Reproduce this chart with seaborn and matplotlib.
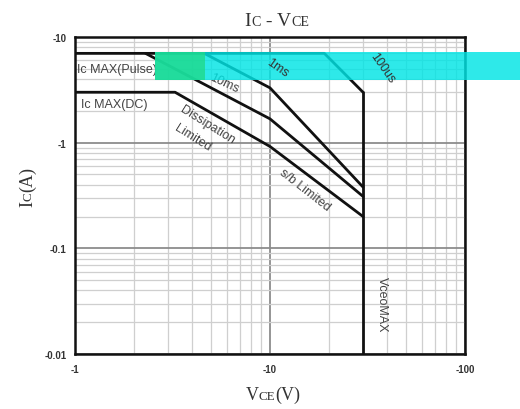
import numpy as np
import pandas as pd
import matplotlib
matplotlib.use("Agg")
import matplotlib.pyplot as plt
import seaborn as sns
from matplotlib.patches import Rectangle
from matplotlib.ticker import LogLocator, NullFormatter

# Safe operating area curves (magnitudes, chart labels carry the minus sign)
vce_pulse = [1, 19, 30]
ic_pulse = [7, 7, 3.0]

vce_dc = [1, 3.26, 10, 30]
ic_dc = [3.0, 3.0, 0.92, 0.20]

vce_10ms = [2.3, 10, 30]
ic_10ms = [7, 1.68, 0.31]

vce_1ms = [4.6, 10, 30]
ic_1ms = [7, 3.3, 0.38]

vce_max = [30, 30]
ic_vcemax = [3.0, 0.01]

x_ticks = [1, 10, 100]
x_tick_labels = ["-1", "-10", "-100"]
y_ticks = [0.01, 0.1, 1, 10]
y_tick_labels = ["-0.01", "-0.1", "-1", "-10"]

W, H = 520, 410


def caps_text(fig, cx, cy, parts, size, rotation=0):
    # draw text with "small caps" pieces, centred on (cx, cy) baseline, pixels from top-left
    r = fig.canvas.get_renderer()
    widths = []
    for s, k in parts:
        t = fig.text(0, 0, s, fontsize=size * k, family="Liberation Serif")
        widths.append(t.get_window_extent(r).width)
        t.remove()
    pos = -sum(widths) / 2
    for (s, k), w in zip(parts, widths):
        if rotation == 90:
            x, y = cx, H - cy + pos
        else:
            x, y = cx + pos, H - cy
        fig.text(x / W, y / H, s, fontsize=size * k, family="Liberation Serif",
                 rotation=rotation, rotation_mode="anchor", ha="left",
                 va="baseline", color="#333333")
        pos += w


sns.set_style("white")
plt.rcParams["font.family"] = ["Liberation Sans", "DejaVu Sans"]

fig = plt.figure(figsize=(5.2, 4.1), dpi=100)
ax = fig.add_axes([75 / W, 1 - 355 / H, 390 / W, 317 / H])

curves = [
    (vce_pulse, ic_pulse),
    (vce_dc, ic_dc),
    (vce_10ms, ic_10ms),
    (vce_1ms, ic_1ms),
    (vce_max, ic_vcemax),
]
for vx, iy in curves:
    df = pd.DataFrame({"vce": vx, "ic": iy})
    sns.lineplot(data=df, x="vce", y="ic", sort=False, estimator=None,
                 color="#111111", lw=2.0, ax=ax, zorder=3)

ax.set_xscale("log")
ax.set_yscale("log")
ax.set_xlim(1, 100)
ax.set_ylim(0.01, 10)
ax.set_xticks(x_ticks, labels=x_tick_labels)
ax.set_yticks(y_ticks, labels=y_tick_labels)
ax.xaxis.set_minor_locator(LogLocator(base=10, subs=np.arange(2, 10)))
ax.yaxis.set_minor_locator(LogLocator(base=10, subs=np.arange(2, 10)))
ax.xaxis.set_minor_formatter(NullFormatter())
ax.yaxis.set_minor_formatter(NullFormatter())
ax.tick_params(which="both", length=0)
ax.tick_params(axis="x", pad=7, labelsize=7, labelcolor="#333333")
ax.tick_params(axis="y", pad=6, labelsize=7, labelcolor="#333333")
for lab in ax.get_xticklabels() + ax.get_yticklabels():
    lab.set_fontweight("bold")

ax.grid(which="major", color="#8c8c8c", lw=1.3)
ax.grid(which="minor", color="#cfcfcf", lw=0.9)
ax.set_xlabel("")
ax.set_ylabel("")
for sp in ax.spines.values():
    sp.set_color("#111111")
    sp.set_linewidth(1.8)
    sp.set_zorder(4)

txt = dict(fontsize=9, color="#444444")
ax.text(1.02, 4.98, "Ic MAX(Pulse)", ha="left", va="center", **txt)
ax.text(1.07, 2.32, "Ic MAX(DC)", ha="left", va="center", **txt)
ax.text(4.75, 1.5, "Dissipation", ha="center", va="center", rotation=-32, **txt)
ax.text(4.03, 1.13, "Limited", ha="center", va="center", rotation=-32, **txt)
ax.text(5.8, 3.67, "10ms", ha="center", va="center", rotation=-25, **txt)
ax.text(15.1, 0.365, "s/b Limited", ha="center", va="center", rotation=-38, **txt)
ax.text(37.5, 0.0298, "VceoMAX", ha="center", va="center", rotation=-90, **txt)

# cyan band glitch across the top of the picture
fig.add_artist(Rectangle((155 / W, 1 - 81 / H), 1 - 155 / W, 28 / H,
                         transform=fig.transFigure, color="#00e5e5",
                         alpha=0.82, lw=0, zorder=5))
fig.add_artist(Rectangle((155 / W, 1 - 81 / H), 50 / W, 28 / H,
                         transform=fig.transFigure, color="#1fd98a",
                         alpha=0.8, lw=0, zorder=5))
fig.text(277 / W, 1 - 68 / H, "1ms", ha="center", va="center", rotation=-35,
         fontsize=9, color="#333333", zorder=6)
fig.text(382 / W, 1 - 68 / H, "100us", ha="center", va="center", rotation=-55,
         fontsize=9, color="#333333", zorder=6)

caps_text(fig, 277, 26, [("I", 1), ("C", 0.72), (" - ", 1), ("V", 1), ("CE", 0.72)], 14)
caps_text(fig, 32, 187, [("I", 1), ("C", 0.72), ("(A)", 1)], 13, rotation=90)
caps_text(fig, 273, 400, [("V", 1), ("CE", 0.72), ("(V)", 1)], 13)

fig.savefig("out.png", dpi=100)
